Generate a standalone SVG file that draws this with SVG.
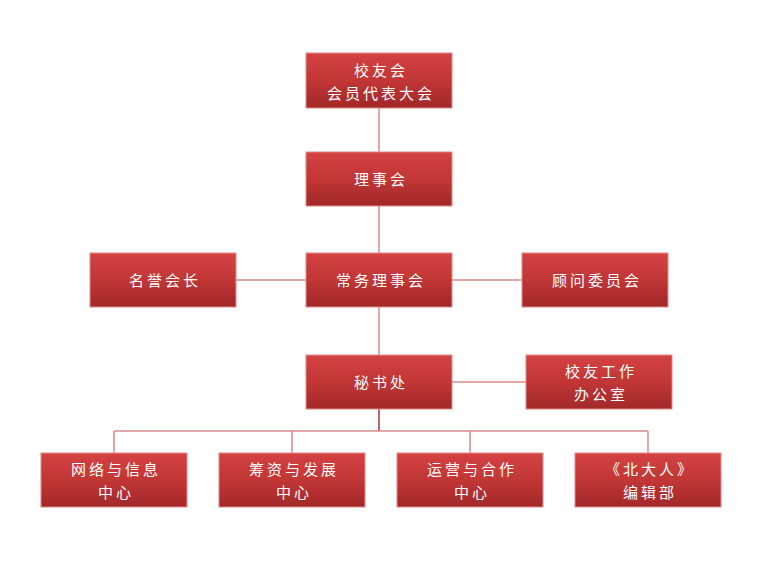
<svg xmlns="http://www.w3.org/2000/svg" width="780" height="585" viewBox="0 0 780 585">
<defs>
<linearGradient id="g" x1="0" y1="0" x2="0" y2="1">
<stop offset="0" stop-color="#d44242"/><stop offset="0.5" stop-color="#c23636"/><stop offset="1" stop-color="#a22828"/>
</linearGradient>
</defs>
<style>
rect{fill:url(#g);stroke:#e08a8a;stroke-width:1}
text{fill:#fff;font-family:"Noto Sans CJK SC",sans-serif;font-size:15px;text-anchor:middle;letter-spacing:3px}
.c line{stroke:#d98a8a;stroke-width:1.5}
.c .d{stroke:#b03434}
</style>
<rect width="780" height="585" style="fill:#fff;stroke:none"/>
<g class="c">
<line x1="379" y1="108" x2="379" y2="152"/>
<line x1="379" y1="206" x2="379" y2="253"/>
<line x1="236" y1="280" x2="306" y2="280"/>
<line x1="452" y1="280" x2="522" y2="280"/>
<line x1="379" y1="307" x2="379" y2="355"/>
<line x1="452" y1="382" x2="526" y2="382"/>
<line class="d" x1="379" y1="409" x2="379" y2="431"/>
<line x1="114" y1="431" x2="648" y2="431"/>
<line x1="114" y1="431" x2="114" y2="453"/>
<line x1="292" y1="431" x2="292" y2="453"/>
<line x1="470" y1="431" x2="470" y2="453"/>
<line x1="648" y1="431" x2="648" y2="453"/>
</g>
<g id="n1"><rect x="306" y="53" width="146" height="55"/><text x="381" y="76">校友会</text><text x="381" y="99">会员代表大会</text></g>
<g id="n2"><rect x="306" y="152" width="146" height="54"/><text x="381" y="185">理事会</text></g>
<g id="n3"><rect x="306" y="253" width="146" height="54"/><text x="381" y="286">常务理事会</text></g>
<g id="n4"><rect x="90" y="253" width="146" height="54"/><text x="165" y="286">名誉会长</text></g>
<g id="n5"><rect x="522" y="253" width="146" height="54"/><text x="597" y="286">顾问委员会</text></g>
<g id="n6"><rect x="306" y="355" width="146" height="54"/><text x="381" y="388">秘书处</text></g>
<g id="n7"><rect x="526" y="355" width="146" height="54"/><text x="601" y="377">校友工作</text><text x="601" y="400">办公室</text></g>
<g id="n8"><rect x="41" y="453" width="146" height="54"/><text x="116" y="475">网络与信息</text><text x="116" y="498">中心</text></g>
<g id="n9"><rect x="219" y="453" width="146" height="54"/><text x="294" y="475">筹资与发展</text><text x="294" y="498">中心</text></g>
<g id="n10"><rect x="397" y="453" width="146" height="54"/><text x="472" y="475">运营与合作</text><text x="472" y="498">中心</text></g>
<g id="n11"><rect x="575" y="453" width="146" height="54"/><text x="650" y="475">《北大人》</text><text x="650" y="498">编辑部</text></g>
</svg>
